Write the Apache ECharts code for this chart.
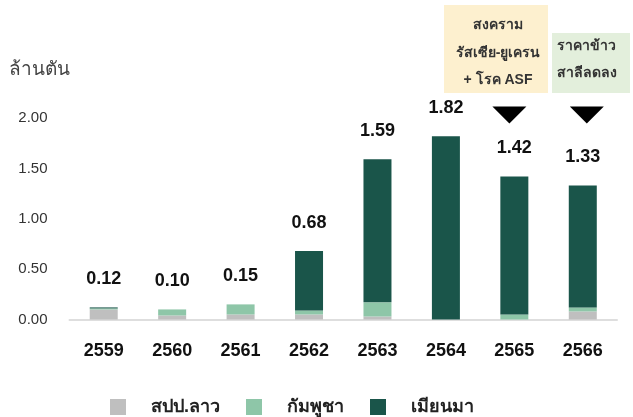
<!DOCTYPE html>
<html>
<head>
<meta charset="utf-8">
<script src="https://cdn.jsdelivr.net/npm/echarts@6/dist/echarts.min.js"></script>
<style>html,body{margin:0;padding:0;background:#fff;}#c{width:633px;height:417px;}</style>
</head>
<body>
<div id="c"></div>
<script>
var years = ['2559','2560','2561','2562','2563','2564','2565','2566'];
var laos = [0.10, 0.04, 0.05, 0.05, 0.03, 0.00, 0.00, 0.08];
var cambodia = [0.01, 0.06, 0.10, 0.04, 0.14, 0.00, 0.05, 0.04];
var myanmar = [0.01, 0.00, 0.00, 0.59, 1.42, 1.82, 1.37, 1.21];
var totals = ['0.12','0.10','0.15','0.68','1.59','1.82','1.42','1.33'];
var yTicks = [0, 0.5, 1.0, 1.5, 2.0];

var FONT = 'Liberation Sans, Arial, sans-serif';
var chart = echarts.init(document.getElementById('c'));
chart.setOption({
  animation: false,
  textStyle: {fontFamily: FONT},
  title: {text: 'ล้านตัน', left: 4, top: 55, textStyle: {fontSize: 19, fontWeight: 'normal', color: '#444', fontFamily: FONT}},
  grid: {left: 69.5, right: 16, top: 118, bottom: 97.5},
  legend: {
    top: 393, left: 105, itemWidth: 16, itemHeight: 16, itemGap: 26, icon: 'rect',
    textStyle: {fontSize: 18, fontWeight: 'bold', color: '#222', padding: [0,0,0,20], fontFamily: FONT},
    data: ['สปป.ลาว','กัมพูชา','เมียนมา']
  },
  xAxis: {
    type: 'category', data: years,
    axisLine: {lineStyle: {color: '#dedede', width: 2}},
    axisTick: {show: false},
    axisLabel: {fontSize: 18, fontWeight: 'bold', color: '#111', margin: 23}
  },
  yAxis: {
    type: 'value', min: yTicks[0], max: yTicks[yTicks.length-1], interval: 0.5,
    splitLine: {show: false},
    axisLine: {show: false}, axisTick: {show: false},
    axisLabel: {fontSize: 15, color: '#333', margin: 22, formatter: function(v){return v.toFixed(2);}}
  },
  series: [
    {name: 'สปป.ลาว', type: 'bar', stack: 't', data: laos, barWidth: 28, itemStyle: {color: '#bfbfbf'}},
    {name: 'กัมพูชา', type: 'bar', stack: 't', data: cambodia, itemStyle: {color: '#8ec6a8'}},
    {name: 'เมียนมา', type: 'bar', stack: 't', data: myanmar, itemStyle: {color: '#1a554a'},
      label: {show: true, position: 'top', distance: 19, fontSize: 18, fontWeight: 'bold', color: '#111',
        formatter: function(p){return totals[p.dataIndex];}}}
  ]
});

var x65 = chart.convertToPixel({xAxisIndex: 0}, '2565');
var x66 = chart.convertToPixel({xAxisIndex: 0}, '2566');
var yTri = chart.convertToPixel({yAxisIndex: 0}, 2.03);
function tri(cx){
  return {type: 'polygon', shape: {points: [[cx-17, yTri-8.5],[cx+17, yTri-8.5],[cx, yTri+8.5]]}, style: {fill: '#000'}};
}
chart.setOption({
  graphic: [
    {type: 'rect', shape: {x: 444, y: 5, width: 104, height: 88}, style: {fill: '#fdf0cf'}},
    {type: 'text', style: {x: 498, y: 25, text: 'สงคราม', fontSize: 14, fontWeight: 'bold', fill: '#333', align: 'center', verticalAlign: 'middle', fontFamily: FONT}},
    {type: 'text', style: {x: 498, y: 53, text: 'รัสเซีย-ยูเครน', fontSize: 14, fontWeight: 'bold', fill: '#333', align: 'center', verticalAlign: 'middle', fontFamily: FONT}},
    {type: 'text', style: {x: 498, y: 80, text: '+ โรค ASF', fontSize: 14, fontWeight: 'bold', fill: '#333', align: 'center', verticalAlign: 'middle', fontFamily: FONT}},
    {type: 'rect', shape: {x: 552, y: 33, width: 78, height: 60}, style: {fill: '#e3efdc'}},
    {type: 'text', style: {x: 557, y: 46, text: 'ราคาข้าว', fontSize: 14, fontWeight: 'bold', fill: '#333', align: 'left', verticalAlign: 'middle', fontFamily: FONT}},
    {type: 'text', style: {x: 557, y: 73, text: 'สาลีลดลง', fontSize: 14, fontWeight: 'bold', fill: '#333', align: 'left', verticalAlign: 'middle', fontFamily: FONT}},
    tri(x65 - 5),
    tri(x66 + 4)
  ]
});
</script>
</body>
</html>
